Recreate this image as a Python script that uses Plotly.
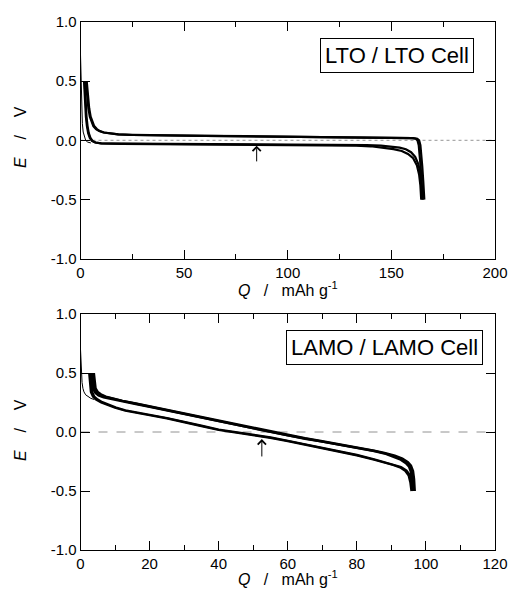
import plotly.graph_objects as go
from plotly.subplots import make_subplots

# ---- data ----

# LTO / LTO cell (top panel), Q in mAh/g, E in V
lto_first_q = [0, 0.1, 0.25, 0.4, 0.6, 0.9, 1.3, 1.8, 2.5, 3.5, 5]
lto_first_e = [0.72, 0.62, 0.5, 0.38, 0.25, 0.14, 0.07, 0.03, 0.0, -0.015, -0.022]

lto_chg1_q = [2.6, 2.9, 3.3, 3.8, 4.5, 5.3, 6.2, 7.5, 9, 11, 14, 18, 25, 40, 60, 80, 100,
              120, 140, 155, 160, 161.8, 162.6, 163.2, 163.7, 164.1, 164.6, 165.1]
lto_chg1_e = [0.5, 0.42, 0.34, 0.27, 0.2, 0.155, 0.12, 0.095, 0.078, 0.066, 0.057, 0.05,
              0.045, 0.04, 0.037, 0.034, 0.031, 0.028, 0.024, 0.02, 0.018, 0.014, 0.0,
              -0.04, -0.12, -0.22, -0.35, -0.5]
lto_chg2_q = [3.0, 3.3, 3.7, 4.2, 4.9, 5.7, 6.6, 7.9, 9.4, 11.4, 14.4, 18.4, 25, 40, 60, 80,
              100, 120, 140, 155, 160.5, 162.5, 163.4, 164.0, 164.5, 164.9, 165.4, 165.9]
lto_chg2_e = [0.5, 0.42, 0.34, 0.27, 0.2, 0.155, 0.12, 0.095, 0.078, 0.066, 0.057, 0.05,
              0.046, 0.041, 0.038, 0.035, 0.032, 0.029, 0.025, 0.021, 0.019, 0.014, 0.0,
              -0.04, -0.12, -0.22, -0.35, -0.5]

lto_dis1_q = [1.7, 1.9, 2.2, 2.6, 3.1, 3.7, 4.5, 5.5, 7, 10, 20, 40, 60, 80, 100, 120, 130,
              138, 145, 150, 154, 157, 159.5, 161.5, 163, 164, 164.6, 165.1]
lto_dis1_e = [0.5, 0.4, 0.3, 0.2, 0.12, 0.06, 0.02, -0.005, -0.018, -0.025, -0.028, -0.03,
              -0.031, -0.032, -0.033, -0.035, -0.037, -0.04, -0.045, -0.052, -0.062,
              -0.075, -0.1, -0.14, -0.2, -0.28, -0.37, -0.5]
lto_dis2_q = [2.0, 2.2, 2.5, 2.9, 3.4, 4.0, 4.8, 5.8, 7.3, 10, 20, 40, 60, 80, 100, 115, 125,
              133, 140, 146, 151, 155, 158, 160.5, 162.3, 163.4, 164.0, 164.4]
lto_dis2_e = [0.5, 0.4, 0.3, 0.2, 0.12, 0.06, 0.02, -0.005, -0.018, -0.026, -0.029, -0.031,
              -0.032, -0.033, -0.035, -0.037, -0.04, -0.044, -0.05, -0.06, -0.074, -0.09,
              -0.115, -0.15, -0.21, -0.29, -0.38, -0.5]

# LAMO / LAMO cell (bottom panel)
lamo_first_q = [0, 0.1, 0.25, 0.45, 0.7, 1.0, 1.5, 2.2, 3.0, 4.0]
lamo_first_e = [0.7, 0.6, 0.5, 0.42, 0.37, 0.34, 0.315, 0.3, 0.285, 0.275]

lamo_chg1_q = [3.5, 3.7, 4.0, 4.6, 5.5, 7, 9, 12, 16, 20, 25, 30, 35, 40, 45, 50, 55, 60, 65,
               70, 75, 80, 85, 88, 91, 93, 94.5, 95.4, 95.9, 96.2, 96.4]
lamo_chg1_e = [0.5, 0.42, 0.37, 0.34, 0.32, 0.3, 0.285, 0.265, 0.24, 0.215, 0.185, 0.155,
               0.125, 0.092, 0.062, 0.03, 0.0, -0.028, -0.055, -0.08, -0.105, -0.13, -0.16,
               -0.18, -0.205, -0.23, -0.26, -0.29, -0.33, -0.4, -0.5]
lamo_chg2_q = [3.9, 4.1, 4.4, 5.0, 5.9, 7.3, 9.3, 12.2, 16, 20, 25, 30, 35, 40, 45, 50, 55, 60,
               65, 70, 75, 80, 85, 88, 91, 93.2, 94.8, 95.7, 96.3, 96.6, 96.8]
lamo_chg2_e = [0.5, 0.42, 0.37, 0.34, 0.32, 0.3, 0.285, 0.265, 0.242, 0.218, 0.188, 0.158,
               0.128, 0.095, 0.065, 0.033, 0.003, -0.025, -0.052, -0.077, -0.102, -0.127,
               -0.157, -0.177, -0.2, -0.225, -0.255, -0.285, -0.33, -0.4, -0.5]
lamo_chg3_q = [3.2, 3.4, 3.7, 4.3, 5.2, 6.7, 8.8, 11.8, 16, 20, 25, 30, 35, 40, 45, 50, 55, 60,
               65, 70, 75, 80, 85, 88, 90.8, 92.7, 94.2, 95.1, 95.6, 95.9, 96.1]
lamo_chg3_e = [0.5, 0.42, 0.36, 0.33, 0.31, 0.292, 0.278, 0.26, 0.236, 0.212, 0.182, 0.152,
               0.122, 0.09, 0.06, 0.028, -0.002, -0.03, -0.058, -0.083, -0.108, -0.133,
               -0.163, -0.183, -0.21, -0.235, -0.265, -0.295, -0.335, -0.4, -0.5]

lamo_dis1_q = [2.5, 2.7, 3.0, 3.6, 4.5, 6, 8, 10, 13, 16, 20, 25, 30, 35, 40, 45, 50, 55, 60,
               65, 70, 75, 80, 85, 88, 90.5, 92.5, 94, 95, 95.5, 95.8]
lamo_dis1_e = [0.5, 0.4, 0.34, 0.3, 0.275, 0.25, 0.225, 0.205, 0.18, 0.162, 0.142, 0.115,
               0.085, 0.05, 0.017, -0.005, -0.027, -0.05, -0.078, -0.108, -0.138, -0.168,
               -0.198, -0.235, -0.258, -0.28, -0.3, -0.33, -0.37, -0.43, -0.5]
lamo_dis2_q = [2.9, 3.1, 3.4, 4.0, 4.9, 6.3, 8.3, 10.3, 13, 16, 20, 25, 30, 35, 40, 45, 50,
               55, 60, 65, 70, 75, 80, 85, 88, 90.8, 92.8, 94.4, 95.4, 95.9, 96.2]
lamo_dis2_e = [0.5, 0.4, 0.34, 0.3, 0.277, 0.253, 0.228, 0.208, 0.184, 0.166, 0.146, 0.119,
               0.089, 0.054, 0.021, -0.001, -0.023, -0.046, -0.074, -0.104, -0.134, -0.164,
               -0.194, -0.231, -0.254, -0.276, -0.296, -0.326, -0.366, -0.43, -0.5]

# axes
lto_q_ticks = [0, 50, 100, 150, 200]
lamo_q_ticks = [0, 20, 40, 60, 80, 100, 120]
e_ticks = [-1.0, -0.5, 0.0, 0.5, 1.0]
e_tick_text = ["-1.0", "-0.5", "0.0", "0.5", "1.0"]

lto_label = "LTO / LTO Cell"
lamo_label = "LAMO / LAMO Cell"
lto_arrow = (85, -0.19, -0.045)    # q, tail e, head e
lamo_arrow = (52.5, -0.22, -0.06)

FONT = "Liberation Sans, Arial, sans-serif"
W, H = 510, 591

def px(x):
    return x / W

def py(y):
    return 1 - y / H

fig = make_subplots(rows=2, cols=1)

def add_curves(row, curves, thin):
    for q, e in curves:
        fig.add_trace(go.Scatter(x=q, y=e, mode="lines", line=dict(color="black", width=2.2),
                                 showlegend=False, hoverinfo="skip"), row=row, col=1)
    q, e = thin
    fig.add_trace(go.Scatter(x=q, y=e, mode="lines", line=dict(color="black", width=1),
                             showlegend=False, hoverinfo="skip"), row=row, col=1)

add_curves(1, [(lto_chg1_q, lto_chg1_e), (lto_chg2_q, lto_chg2_e),
               (lto_dis1_q, lto_dis1_e), (lto_dis2_q, lto_dis2_e)],
           (lto_first_q, lto_first_e))
add_curves(2, [(lamo_chg1_q, lamo_chg1_e), (lamo_chg2_q, lamo_chg2_e), (lamo_chg3_q, lamo_chg3_e),
               (lamo_dis1_q, lamo_dis1_e), (lamo_dis2_q, lamo_dis2_e)],
           (lamo_first_q, lamo_first_e))

# dashed zero lines
fig.add_hline(y=0, line=dict(color="#aaaaaa", width=1.2, dash="dot"), row=1, col=1, layer="below")
fig.add_hline(y=0, line=dict(color="#777777", width=0.8, dash="dash"), row=2, col=1, layer="below")

# plot areas measured in window pixels
x_dom = [px(80.5), px(495)]
top_dom = [py(259), py(21.7)]
bot_dom = [py(550), py(314)]

tick_font = dict(family=FONT, size=15, color="black")
common = dict(showline=True, linecolor="black", linewidth=1, mirror="allticks",
              ticks="inside", ticklen=9, tickcolor="black", showgrid=False,
              zeroline=False, tickfont=tick_font, automargin=False)

fig.update_xaxes(common, domain=x_dom)
fig.update_xaxes(range=[0, 200], tickvals=lto_q_ticks,
                 minor=dict(dtick=25, tick0=0, ticks="inside", ticklen=5, tickcolor="black"),
                 row=1, col=1)
fig.update_xaxes(range=[0, 120], tickvals=lamo_q_ticks,
                 minor=dict(dtick=10, tick0=0, ticks="inside", ticklen=5, tickcolor="black"),
                 row=2, col=1)
fig.update_yaxes(common, range=[-1, 1], tickvals=e_ticks, ticktext=e_tick_text)
fig.update_yaxes(domain=top_dom, row=1, col=1)
fig.update_yaxes(domain=bot_dom, row=2, col=1)

annotations = []
q_title = "<i>Q</i>\u00a0\u00a0\u00a0/\u00a0\u00a0\u00a0mAh g<sup>-1</sup>"
e_title = "<i>E</i>\u00a0\u00a0\u00a0\u00a0/\u00a0\u00a0\u00a0\u00a0V"
for y_q, y_e in [(289, 137), (578, 430)]:
    annotations.append(dict(text=q_title, x=px(288), y=py(y_q), xref="paper", yref="paper",
                            xanchor="center", yanchor="middle",
                            showarrow=False, font=dict(family=FONT, size=16)))
    annotations.append(dict(text=e_title, x=px(20), y=py(y_e), xref="paper", yref="paper",
                            xanchor="center", yanchor="middle",
                            textangle=-90, showarrow=False, font=dict(family=FONT, size=16)))

for label, cx, cy in [(lto_label, 397, 56), (lamo_label, 384, 347)]:
    annotations.append(dict(text=label, x=px(cx), y=py(cy), xref="paper", yref="paper",
                            xanchor="center", yanchor="middle",
                            showarrow=False, font=dict(family=FONT, size=22, color="black"),
                            bordercolor="black", borderwidth=1, borderpad=4, bgcolor="white"))

for (q, e0, e1), xr, yr in [(lto_arrow, "x", "y"), (lamo_arrow, "x2", "y2")]:
    annotations.append(dict(x=q, y=e1, ax=q, ay=e0, xref=xr, yref=yr, axref=xr, ayref=yr,
                            text="", showarrow=True, arrowhead=4, arrowsize=1.6,
                            arrowwidth=1, arrowcolor="black"))

fig.update_layout(width=W, height=H, margin=dict(l=0, r=0, t=0, b=0),
                  plot_bgcolor="white", paper_bgcolor="white",
                  annotations=annotations, font=dict(family=FONT, color="black"))

# drop the default body margin so the figure sits in the corner of the window
fig.write_html("out.html", config={"displayModeBar": False},
               post_script="document.body.style.margin='0';document.body.style.overflow='hidden';")
